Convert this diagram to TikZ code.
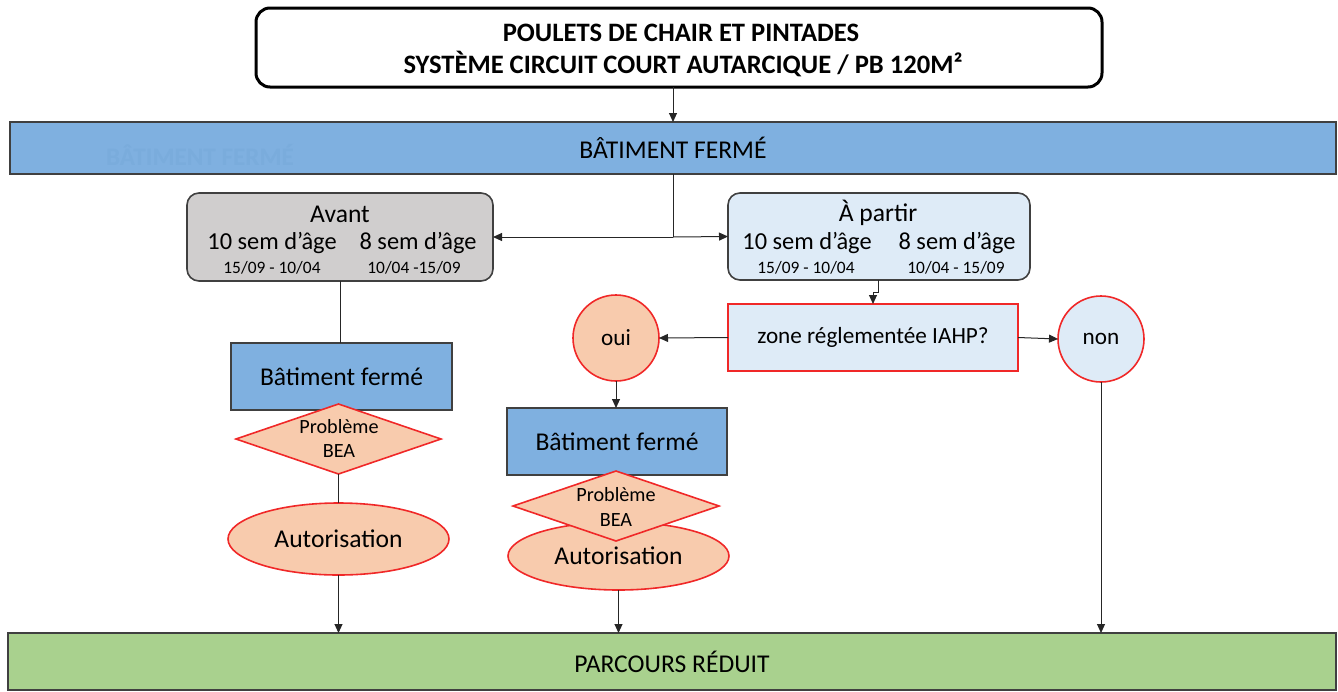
\documentclass[tikz,border=0pt]{standalone}
\usepackage{fontspec}
\setmainfont{Carlito}
\usetikzlibrary{shapes.geometric,arrows.meta}
\definecolor{barblue}{HTML}{7FB0E0}
\definecolor{ghostblue}{HTML}{7AACDC}
\definecolor{greybox}{HTML}{D0CECE}
\definecolor{lightblue}{HTML}{DEEBF7}
\definecolor{peach}{HTML}{F8CBAD}
\definecolor{leaf}{HTML}{A9D18E}
\definecolor{edge}{HTML}{404040}
\definecolor{redline}{HTML}{F02828}
\newcommand{\fs}[1]{\fontsize{#1}{#1}\selectfont}
\tikzset{
  x=0.5pt, y=-0.5pt,
  every node/.style={inner sep=0pt, outer sep=0pt, text=black},
  conn/.style={line width=0.5pt, draw=black!85},
  arr/.style={conn, -{Triangle[length=4.5pt,width=4pt]}},
  widebar/.style={draw=edge, line width=1pt, rectangle},
  bluebox/.style={draw=edge, line width=0.8pt, fill=barblue, rectangle},
  roundbox/.style={draw=edge, line width=0.8pt, rounded corners=6pt, rectangle},
  redshape/.style={draw=redline, line width=0.8pt, fill=peach},
  lbl/.style={font=\fs{12.8}},
  small/.style={font=\fs{8.7}},
  titlefont/.style={font=\bfseries\fs{13.3}},
}
\begin{document}
\begin{tikzpicture}
\path[use as bounding box] (0,0) rectangle (1338,691);

% title
\node[draw=black, line width=1.5pt, rounded corners=7pt, minimum width=423pt, minimum height=39.5pt] (title) at (679,47.5) {};
\node[titlefont] (t1) at (681,33) {POULETS DE CHAIR ET PINTADES};
\node[titlefont] (t2) at (683,64) {SYSTÈME CIRCUIT COURT AUTARCIQUE / PB 120M²};

% top bar
\node[widebar, fill=barblue, minimum width=663pt, minimum height=26pt] (bar) at (673,148) {};
\node[lbl] (bartxt) at (673,148) {BÂTIMENT FERMÉ};
\node[font=\bfseries\fs{12.6}, text=ghostblue] (ghost) at (200,155) {BÂTIMENT FERMÉ};

% avant box
\node[roundbox, fill=greybox, minimum width=153pt, minimum height=44pt] (avant) at (340,237) {};
\node[lbl] (avt) at (340,214) {Avant};
\node[font=\fs{12.2}] (av10) at (272,243) {10 sem d’âge};
\node[font=\fs{12.2}] (av8) at (418,243) {8 sem d’âge};
\node[small] (avd1) at (272,268) {15/09 - 10/04};
\node[small] (avd2) at (414,268) {10/04 -15/09};

% a partir box
\node[roundbox, fill=lightblue, minimum width=151pt, minimum height=43.5pt] (apartir) at (879,236.5) {};
\node[lbl] (apt) at (878,213) {À partir};
\node[font=\fs{12.2}] (ap10) at (807,243) {10 sem d’âge};
\node[font=\fs{12.2}] (ap8) at (957,243) {8 sem d’âge};
\node[small] (apd1) at (806,268) {15/09 - 10/04};
\node[small] (apd2) at (956,268) {10/04 - 15/09};

% zone
\node[draw=redline, line width=0.8pt, fill=lightblue, minimum width=145pt, minimum height=33.5pt, font=\fs{11.6}] (zone) at (873,337.5) {zone réglementée IAHP?};
\node[circle, redshape, minimum size=43pt, font=\fs{11.6}] (oui) at (616,338) {oui};
\node[circle, draw=redline, line width=0.8pt, fill=lightblue, minimum size=43pt, font=\fs{11.6}] (non) at (1101,339) {non};

% middle column
\node[bluebox, minimum width=110pt, minimum height=33.5pt, lbl] (bf2) at (617,441.5) {Bâtiment fermé};
\node[ellipse, redshape, minimum width=110.5pt, minimum height=34pt, lbl] (au2) at (618.5,556) {Autorisation};
\node[diamond, redshape, minimum width=103pt, minimum height=35pt] (pb2) at (616,506) {};
\node[font=\fs{10.1}] (pb2a) at (616,495) {Problème};
\node[font=\fs{10.1}] (pb2b) at (616,520) {BEA};

% left column
\node[bluebox, minimum width=110.5pt, minimum height=33.5pt, lbl] (bf1) at (341.5,376.5) {Bâtiment fermé};
\node[diamond, redshape, minimum width=102.5pt, minimum height=35pt] (pb1) at (338.5,439) {};
\node[font=\fs{10.1}] (pb1a) at (339,427) {Problème};
\node[font=\fs{10.1}] (pb1b) at (339,451) {BEA};
\node[ellipse, redshape, minimum width=110.5pt, minimum height=36pt, lbl] (au1) at (338.5,539) {Autorisation};

% bottom bar
\node[widebar, fill=leaf, minimum width=664pt, minimum height=28.5pt] (green) at (672,661.5) {};
\node[lbl] (greentxt) at (672,662) {PARCOURS RÉDUIT};

% connectors
\coordinate (split) at (673,237);
\coordinate (jog) at (878,292);
\draw[arr] (bar.north |- title.south) -- (bar.north);
\draw[conn] (bar.south) -- (split);
\draw[arr] (split) -- (avant.east);
\draw[arr] (split) -- (apartir.west);
\draw[conn] (apartir.south -| jog) -- (jog) -- ++(-5,0) coordinate (jog2);
\draw[arr] (jog2) -- (jog2 |- zone.north);
\draw[arr] (zone.west) -- (oui.east);
\draw[arr] (zone.east) -- (non.west);
\draw[arr] (oui.south) -- (oui.south |- bf2.north);
\draw[arr] (au2.south) -- (au2.south |- green.north);
\draw[conn] (avant.south) -- (avant.south |- bf1.north);
\draw[conn] (pb1.south) -- (pb1.south |- au1.north);
\draw[arr] (au1.south) -- (au1.south |- green.north);
\draw[arr] (non.south) -- (non.south |- green.north);
\end{tikzpicture}
\end{document}
